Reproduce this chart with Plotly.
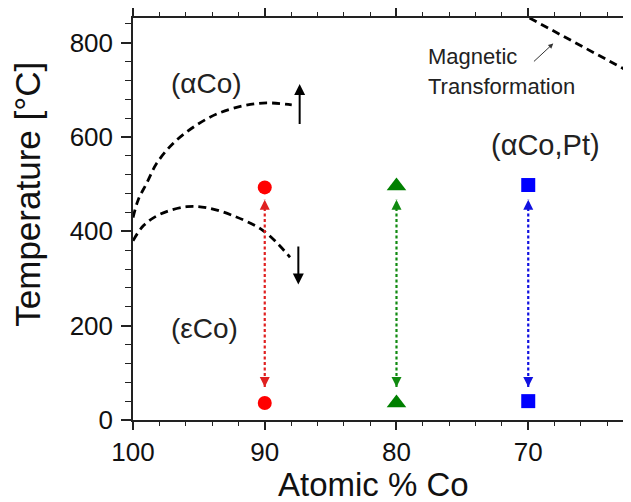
import plotly.graph_objects as go

# ---- data ----
upper_x = [100, 99.6, 98.96, 98.2, 96.96, 95.4, 93.6, 91.6, 89.85, 87.95]
upper_y = [429, 467, 502, 544, 586, 621, 649, 666, 672, 668]
lower_x = [100, 99.2, 97.95, 95.92, 94.4, 92.4, 90.1, 88.08]
lower_y = [380, 412, 436, 452, 450, 433, 401, 345]
mag_x = [69.9, 62.2]
mag_y = [852, 736]

compositions = [90, 80, 70]
high_T = [493, 496, 498]
low_T = [36, 36, 40]
arrow_top = [467, 467, 467]
arrow_bottom = [70, 70, 70]
colors = ["#ff0000", "#008000", "#0000ff"]
line_colors = ["#e02020", "#108a10", "#1010e0"]
symbols = ["circle", "triangle-up", "square"]
sizes = [14, 17, 14]

x_ticks = [100, 90, 80, 70]
y_ticks = [0, 200, 400, 600, 800]

FONT = "Liberation Sans, Arial, sans-serif"

fig = go.Figure()

# dashed phase boundaries
for xs, ys in [(upper_x, upper_y), (lower_x, lower_y)]:
    fig.add_trace(go.Scatter(x=xs, y=ys, mode="lines", line_shape="spline",
                             line=dict(color="black", width=2.8, dash="8px,5px"),
                             showlegend=False, hoverinfo="skip"))
fig.add_trace(go.Scatter(x=mag_x, y=mag_y, mode="lines",
                         line=dict(color="black", width=2.8, dash="8px,5px"),
                         showlegend=False, hoverinfo="skip"))

# dotted double arrows and sample markers
for i, c in enumerate(compositions):
    fig.add_trace(go.Scatter(x=[c, c], y=[arrow_bottom[i], arrow_top[i]], mode="lines",
                             line=dict(color=line_colors[i], width=2.2, dash="3px,2.5px"),
                             showlegend=False, hoverinfo="skip"))
    fig.add_trace(go.Scatter(x=[c, c], y=[arrow_top[i], arrow_bottom[i]], mode="markers",
                             marker=dict(symbol=["arrow-up", "arrow-down"], size=10,
                                         color=line_colors[i], line=dict(width=0)),
                             showlegend=False, hoverinfo="skip"))
    fig.add_trace(go.Scatter(x=[c, c], y=[high_T[i], low_T[i]], mode="markers",
                             marker=dict(symbol=symbols[i], size=sizes[i], color=colors[i],
                                         line=dict(width=0)),
                             showlegend=False, hoverinfo="skip"))

annotations = [
    # black arrows
    dict(x=87.35, y=712, ax=87.35, ay=624, xref="x", yref="y", axref="x", ayref="y",
         text="", showarrow=True, arrowhead=2, arrowsize=1.1, arrowwidth=2, arrowcolor="black"),
    dict(x=87.45, y=287, ax=87.45, ay=371, xref="x", yref="y", axref="x", ayref="y",
         text="", showarrow=True, arrowhead=2, arrowsize=1.1, arrowwidth=2, arrowcolor="black"),
    dict(x=68.1, y=798, ax=69.68, ay=757, xref="x", yref="y", axref="x", ayref="y",
         text="", showarrow=True, arrowhead=2, arrowsize=1, arrowwidth=1, arrowcolor="#333"),
    # region labels
    dict(x=94.4, y=714, xref="x", yref="y", text="(αCo)", showarrow=False,
         font=dict(family=FONT, size=28, color="#222")),
    dict(x=94.6, y=193, xref="x", yref="y", text="(εCo)", showarrow=False,
         font=dict(family=FONT, size=28, color="#222")),
    dict(x=68.7, y=582, xref="x", yref="y", text="(αCo,Pt)", showarrow=False,
         font=dict(family=FONT, size=29, color="#222")),
    dict(x=77.75, y=770, xref="x", yref="y", text="Magnetic", showarrow=False,
         xanchor="left", font=dict(family=FONT, size=22, color="#222")),
    dict(x=77.75, y=707, xref="x", yref="y", text="Transformation", showarrow=False,
         xanchor="left", font=dict(family=FONT, size=22, color="#222")),
    # axis titles
    dict(x=-0.211, y=0.5627, xref="paper", yref="paper", text="Temperature [°C]",
         textangle=-90, showarrow=False, xanchor="center", yanchor="middle",
         font=dict(family=FONT, size=35, color="#111")),
    dict(x=0.482, y=-0.160, xref="paper", yref="paper", text="Atomic % Co",
         showarrow=False, xanchor="center", yanchor="middle",
         font=dict(family=FONT, size=33, color="#111")),
]

fig.update_layout(
    width=623, height=494,
    margin=dict(l=125, r=0, t=5, b=82),
    paper_bgcolor="white", plot_bgcolor="white",
    annotations=annotations,
    showlegend=False,
    shapes=[dict(type="line", xref="paper", yref="paper", x0=0, x1=0, y0=1, y1=1.02,
                 line=dict(color="#222", width=1.5))],
)
fig.update_xaxes(range=[100, 62.2], tickvals=x_ticks, ticks="outside", ticklen=8, tickwidth=1.5,
                 showline=True, linecolor="#222", linewidth=1.5, mirror="ticks",
                 showgrid=False, zeroline=False,
                 tickfont=dict(family=FONT, size=26, color="#111"),
                 minor=dict(dtick=2, ticks="outside", ticklen=4, tickwidth=1.2, tickcolor="#222", showgrid=False),
                 tickcolor="#222")
fig.update_yaxes(range=[0, 852], tickvals=y_ticks, ticks="outside", ticklen=10, tickwidth=1.5,
                 showline=True, linecolor="#222", linewidth=1.5, mirror=False,
                 showgrid=False, zeroline=False, ticklabelstandoff=3,
                 tickfont=dict(family=FONT, size=26, color="#111"),
                 minor=dict(dtick=40, ticks="outside", ticklen=6, tickwidth=1.2, tickcolor="#222", showgrid=False),
                 tickcolor="#222")

fig.write_html("out.html")
